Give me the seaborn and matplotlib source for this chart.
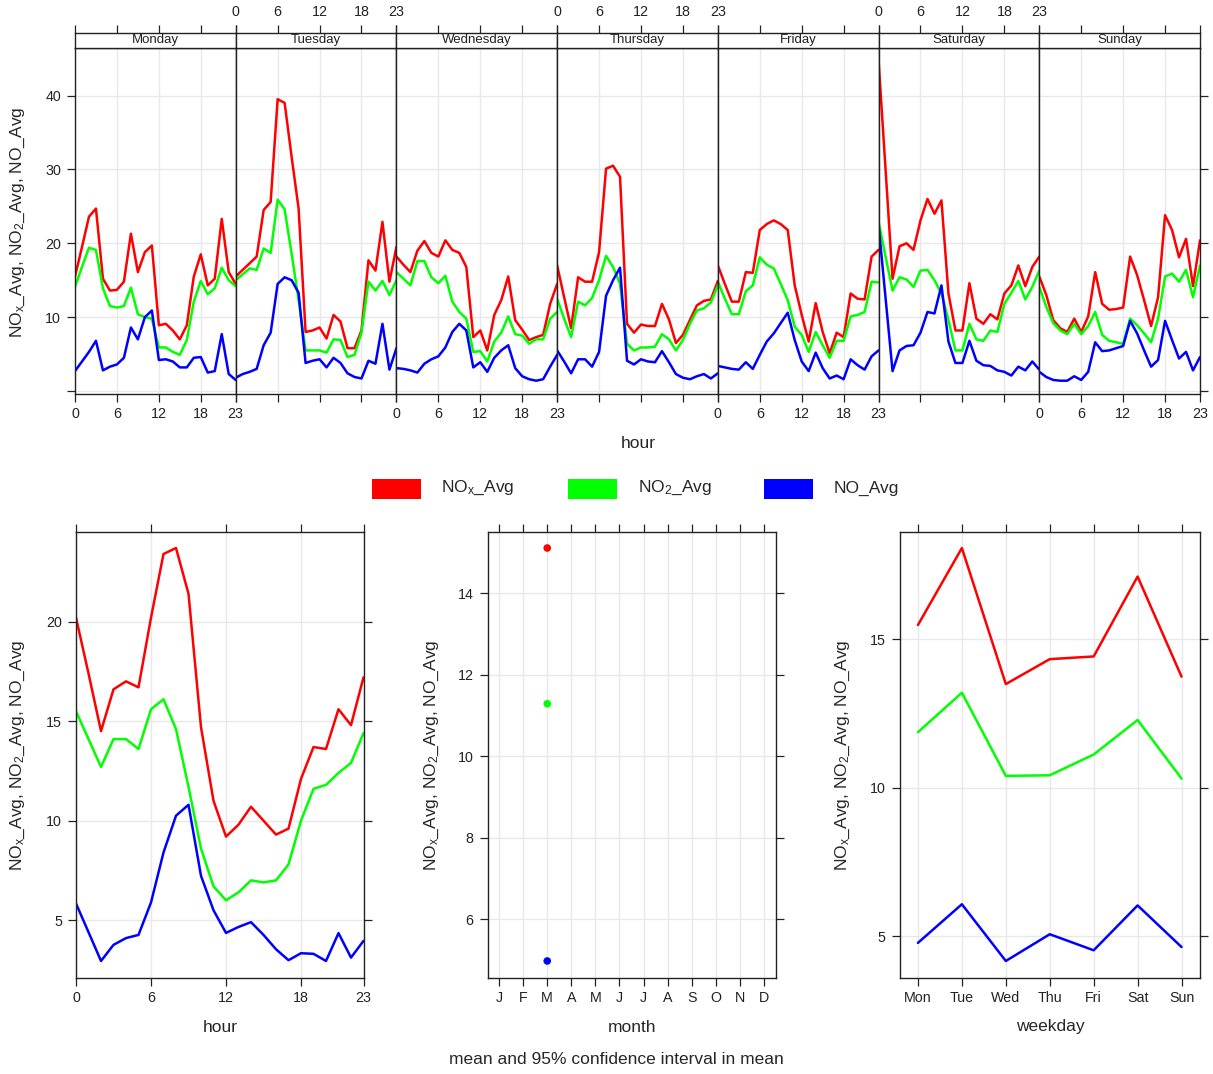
import numpy as np
import pandas as pd
import matplotlib
matplotlib.use("Agg")
import matplotlib.pyplot as plt
from matplotlib.patches import Rectangle
import seaborn as sns

sns.set_theme(style="white")
plt.rcParams["font.family"] = ["Liberation Sans", "DejaVu Sans"]
plt.rcParams["mathtext.fontset"] = "custom"
plt.rcParams["mathtext.rm"] = "Liberation Sans"
plt.rcParams["mathtext.it"] = "Liberation Sans:italic"
plt.rcParams["mathtext.bf"] = "Liberation Sans:bold"

# ---------------- data ----------------
HOURS = list(range(24))
DAYS = ["Monday", "Tuesday", "Wednesday", "Thursday", "Friday", "Saturday", "Sunday"]
DAY_ABBR = ["Mon", "Tue", "Wed", "Thu", "Fri", "Sat", "Sun"]
MONTH_LABELS = ["J", "F", "M", "A", "M", "J", "J", "A", "S", "O", "N", "D"]
POLLUTANTS = ["NOx_Avg", "NO2_Avg", "NO_Avg"]
LEGEND_LABELS = [r"NO$_\mathrm{x}$_Avg", r"NO$_\mathrm{2}$_Avg", "NO_Avg"]
COLORS = {"NOx_Avg": "#FF0000", "NO2_Avg": "#00FF00", "NO_Avg": "#0000FF"}

NOX_MON = [15.5, 19.5, 23.6, 24.7, 15.2, 13.6, 13.7, 14.8, 21.3, 16.1, 18.8, 19.7, 8.9, 9.1, 8.2, 7.0, 8.9, 15.5, 18.5, 14.3, 15.2, 23.3, 16.1, 14.5]
NO2_MON = [14.1, 16.8, 19.4, 19.1, 13.9, 11.5, 11.3, 11.5, 14.0, 10.4, 10.0, 9.8, 5.9, 5.9, 5.3, 4.9, 6.9, 12.1, 14.9, 13.1, 13.9, 16.7, 15.0, 14.2]
NO_MON = [2.7, 4.0, 5.3, 6.8, 2.8, 3.3, 3.6, 4.5, 8.6, 7.0, 10.0, 10.9, 4.2, 4.3, 4.0, 3.2, 3.2, 4.5, 4.6, 2.5, 2.7, 7.7, 2.3, 1.5]

NOX_TUE = [15.5, 16.4, 17.3, 18.2, 24.5, 25.6, 39.5, 39.0, 31.7, 24.7, 8.0, 8.2, 8.6, 7.1, 10.3, 9.4, 5.8, 5.8, 8.2, 17.7, 16.3, 22.9, 14.8, 19.5]
NO2_TUE = [15.0, 15.8, 16.6, 16.4, 19.3, 18.7, 25.9, 24.6, 18.6, 12.3, 5.5, 5.5, 5.5, 5.2, 7.0, 6.9, 4.6, 4.9, 7.9, 14.8, 13.6, 14.9, 13.0, 15.0]
NO_TUE = [1.8, 2.3, 2.6, 3.0, 6.2, 7.9, 14.5, 15.4, 15.0, 13.3, 3.8, 4.1, 4.3, 3.2, 4.5, 3.8, 2.4, 1.9, 1.7, 4.1, 3.7, 9.1, 2.9, 5.8]

NOX_WED = [18.2, 17.1, 16.1, 19.0, 20.3, 18.7, 18.2, 20.4, 19.1, 18.7, 16.8, 7.3, 8.2, 5.5, 10.3, 12.3, 15.5, 9.6, 8.3, 6.9, 7.3, 7.6, 11.8, 14.5]
NO2_WED = [16.1, 15.2, 14.3, 17.6, 17.6, 15.4, 14.6, 15.6, 12.1, 10.7, 9.8, 5.3, 5.4, 4.0, 6.7, 7.9, 10.1, 7.7, 7.5, 6.4, 7.0, 7.0, 9.8, 10.7]
NO_WED = [3.1, 3.0, 2.8, 2.5, 3.7, 4.3, 4.7, 5.9, 8.0, 9.1, 8.2, 3.2, 3.9, 2.6, 4.5, 5.5, 6.2, 3.1, 2.0, 1.6, 1.4, 1.6, 3.3, 4.9]

NOX_THU = [17.0, 12.7, 8.5, 15.4, 14.8, 14.8, 18.8, 30.1, 30.5, 29.0, 9.1, 7.9, 9.0, 8.8, 8.8, 11.8, 9.7, 6.5, 7.6, 9.6, 11.6, 12.2, 12.4, 14.9]
NO2_THU = [12.5, 9.8, 7.3, 12.1, 11.6, 12.6, 15.0, 18.3, 16.8, 14.5, 6.4, 5.5, 5.9, 5.9, 6.0, 7.7, 7.0, 5.5, 6.9, 9.1, 10.9, 11.2, 12.0, 14.3]
NO_THU = [5.5, 4.0, 2.4, 4.3, 4.3, 3.3, 5.3, 12.9, 15.0, 16.7, 4.1, 3.6, 4.3, 4.0, 3.9, 5.4, 3.9, 2.3, 1.8, 1.6, 2.0, 2.3, 1.7, 2.4]

NOX_FRI = [17.0, 14.5, 12.1, 12.1, 16.1, 16.0, 21.8, 22.6, 23.1, 22.6, 21.8, 14.3, 10.3, 6.7, 11.9, 8.0, 5.1, 7.9, 7.3, 13.2, 12.5, 12.4, 18.2, 19.1]
NO2_FRI = [14.8, 12.5, 10.4, 10.4, 13.5, 14.3, 18.1, 17.1, 16.6, 14.5, 12.3, 8.7, 7.6, 5.3, 8.0, 6.2, 4.5, 6.8, 6.8, 10.1, 10.3, 10.7, 14.8, 14.7]
NO_FRI = [3.4, 3.2, 3.0, 2.9, 3.9, 3.0, 4.9, 6.7, 7.8, 9.2, 10.6, 6.9, 4.0, 2.7, 5.2, 3.1, 1.7, 2.1, 1.6, 4.3, 3.5, 2.9, 4.7, 5.5]

NOX_SAT = [44.7, 30.0, 15.2, 19.6, 20.0, 19.1, 23.1, 26.0, 24.0, 25.8, 13.2, 8.2, 8.2, 14.6, 9.8, 9.1, 10.4, 9.7, 13.2, 14.3, 17.0, 14.2, 16.8, 18.2]
NO2_SAT = [22.9, 18.2, 13.6, 15.4, 15.1, 14.1, 16.3, 16.4, 15.0, 13.2, 9.6, 5.5, 5.5, 9.1, 7.0, 6.8, 8.2, 8.0, 11.8, 13.3, 14.9, 12.4, 14.1, 16.3]
NO_SAT = [22.5, 12.6, 2.7, 5.5, 6.1, 6.2, 7.9, 10.7, 10.5, 14.3, 6.7, 3.8, 3.8, 6.8, 4.1, 3.5, 3.4, 2.8, 2.6, 2.1, 3.3, 2.8, 4.0, 2.9]

NOX_SUN = [15.5, 13.0, 9.6, 8.5, 8.0, 9.8, 8.0, 10.1, 16.1, 11.8, 11.0, 11.1, 11.3, 18.2, 15.7, 12.3, 8.8, 12.7, 23.8, 21.8, 18.1, 20.6, 14.2, 20.4]
NO2_SUN = [14.1, 11.4, 9.2, 8.2, 7.7, 9.1, 7.7, 8.8, 10.7, 7.6, 6.8, 6.6, 6.4, 9.8, 8.9, 7.8, 6.6, 9.8, 15.5, 15.9, 14.8, 16.4, 12.7, 17.0]
NO_SUN = [2.6, 1.9, 1.5, 1.4, 1.4, 2.0, 1.5, 2.6, 6.6, 5.4, 5.5, 5.8, 6.1, 9.5, 7.8, 5.5, 3.3, 4.2, 9.5, 6.9, 4.4, 5.3, 2.8, 4.6]

NOX_HOUR = [20.2, 17.4, 14.5, 16.6, 17.0, 16.7, 20.2, 23.4, 23.7, 21.4, 14.7, 11.0, 9.2, 9.8, 10.7, 10.0, 9.3, 9.6, 12.1, 13.7, 13.6, 15.6, 14.8, 17.2]
NO2_HOUR = [15.5, 14.1, 12.7, 14.1, 14.1, 13.6, 15.6, 16.1, 14.6, 11.7, 8.6, 6.7, 6.0, 6.4, 7.0, 6.9, 7.0, 7.8, 10.0, 11.6, 11.8, 12.4, 12.9, 14.4]
NO_HOUR = [5.84, 4.4, 2.95, 3.76, 4.1, 4.26, 5.89, 8.4, 10.25, 10.8, 7.23, 5.5, 4.36, 4.66, 4.9, 4.26, 3.54, 2.99, 3.34, 3.31, 2.95, 4.35, 3.12, 3.96]

NOX_WEEKDAY = [15.48, 18.07, 13.49, 14.33, 14.42, 17.11, 13.74]
NO2_WEEKDAY = [11.87, 13.20, 10.40, 10.42, 11.12, 12.28, 10.31]
NO_WEEKDAY = [4.78, 6.08, 4.17, 5.07, 4.53, 6.04, 4.64]

MONTHS_PRESENT = [3]
NOX_MONTH = [15.11]
NO2_MONTH = [11.29]
NO_MONTH = [4.98]

DAY_SERIES = {
    "Monday": (NOX_MON, NO2_MON, NO_MON),
    "Tuesday": (NOX_TUE, NO2_TUE, NO_TUE),
    "Wednesday": (NOX_WED, NO2_WED, NO_WED),
    "Thursday": (NOX_THU, NO2_THU, NO_THU),
    "Friday": (NOX_FRI, NO2_FRI, NO_FRI),
    "Saturday": (NOX_SAT, NO2_SAT, NO_SAT),
    "Sunday": (NOX_SUN, NO2_SUN, NO_SUN),
}

rows = []
for d in DAYS:
    for p, vals in zip(POLLUTANTS, DAY_SERIES[d]):
        for h, v in zip(HOURS, vals):
            rows.append({"day": d, "hour": h, "pollutant": p, "value": v})
df_dh = pd.DataFrame(rows)

df_hour = pd.DataFrame([{"hour": h, "pollutant": p, "value": v}
                        for p, vals in zip(POLLUTANTS, (NOX_HOUR, NO2_HOUR, NO_HOUR))
                        for h, v in zip(HOURS, vals)])
df_wd = pd.DataFrame([{"wd": i + 1, "pollutant": p, "value": v}
                      for p, vals in zip(POLLUTANTS, (NOX_WEEKDAY, NO2_WEEKDAY, NO_WEEKDAY))
                      for i, v in enumerate(vals)])
df_month = pd.DataFrame([{"month": m, "pollutant": p, "value": v}
                         for p, vals in zip(POLLUTANTS, (NOX_MONTH, NO2_MONTH, NO_MONTH))
                         for m, v in zip(MONTHS_PRESENT, vals)])


def padded(values, frac=0.04):
    lo, hi = float(np.min(values)), float(np.max(values))
    span = hi - lo
    return lo - frac * span, hi + frac * span


# ---------------- figure ----------------
W, H = 1213, 1074
fig = plt.figure(figsize=(W / 100, H / 100), dpi=100)
fig.patch.set_facecolor("white")


def rect(x0, y0, x1, y1):
    return [x0 / W, 1 - y1 / H, (x1 - x0) / W, (y1 - y0) / H]


GRID_C = "#e8e8e8"
TICK_FS = 10.3
LAB_FS = 12.5
LW = 1.8
YLABEL = r"NO$_\mathrm{x}$_Avg, NO$_\mathrm{2}$_Avg, NO_Avg"


def base_style(ax):
    for s in ax.spines.values():
        s.set_color("#222222")
        s.set_linewidth(1.0)
        s.set_visible(True)
    ax.set_facecolor("white")
    ax.grid(True, color=GRID_C, linewidth=1.0)
    ax.set_axisbelow(True)
    ax.tick_params(direction="out", length=6, width=0.9, color="#222222",
                   labelsize=TICK_FS, labelcolor="#222222", pad=4)
    ax.set_xlabel("")
    ax.set_ylabel("")


# ---- top: day x hour panels ----
x_left, x_right = 75, 1200
pw = (x_right - x_left) / 7
top_ylim = padded(df_dh["value"])
for i, d in enumerate(DAYS):
    x0 = x_left + i * pw
    ax = fig.add_axes(rect(x0, 48, x0 + pw, 393.5))
    sub = df_dh[df_dh["day"] == d]
    sns.lineplot(data=sub, x="hour", y="value", hue="pollutant", hue_order=POLLUTANTS,
                 palette=COLORS, legend=False, ax=ax, linewidth=LW, errorbar=None)
    base_style(ax)
    ax.set_xlim(0, 23)
    ax.set_ylim(*top_ylim)
    ax.set_xticks([0, 6, 12, 18, 23])
    ax.set_yticks([0, 10, 20, 30, 40])
    ax.set_yticklabels(["", "10", "20", "30", "40"])
    ax.tick_params(axis="x", bottom=True, labelbottom=(i % 2 == 0), top=False)
    ax.tick_params(axis="y", left=(i == 0), labelleft=(i == 0),
                   right=(i == 6), labelright=False)

    sax = fig.add_axes(rect(x0, 32.5, x0 + pw, 48))
    sax.set_xlim(0, 23)
    sax.set_ylim(0, 1)
    for s in sax.spines.values():
        s.set_color("#222222")
        s.set_linewidth(1.0)
    sax.set_facecolor("white")
    sax.set_yticks([])
    sax.set_xticks([0, 6, 12, 18, 23])
    sax.tick_params(axis="x", direction="out", length=6, width=0.9, color="#222222",
                    bottom=False, labelbottom=False, top=True, labeltop=(i % 2 == 1),
                    labelsize=TICK_FS, labelcolor="#222222", pad=4)
    sax.text(11.5, 0.5, d, ha="center", va="center", fontsize=9.5, color="#222222")

fig.text(638 / W, 1 - 443 / H, "hour", ha="center", va="center", fontsize=LAB_FS)
fig.text(18 / W, 1 - 222 / H, YLABEL, ha="center", va="center", rotation=90, fontsize=LAB_FS)

# ---- legend ----
leg_items = [(372, 421, 441), (568, 617, 638), (764, 813, 834)]
for (r0, r1, tx), p, lab in zip(leg_items, POLLUTANTS, LEGEND_LABELS):
    fig.patches.append(Rectangle((r0 / W, 1 - 499 / H), (r1 - r0) / W, 20 / H,
                                 transform=fig.transFigure, facecolor=COLORS[p],
                                 edgecolor="none"))
    fig.text(tx / W, 1 - 488 / H, lab, ha="left", va="center", fontsize=LAB_FS)

# ---- bottom left: hour ----
ax = fig.add_axes(rect(76, 531.5, 363.5, 977.5))
sns.lineplot(data=df_hour, x="hour", y="value", hue="pollutant", hue_order=POLLUTANTS,
             palette=COLORS, legend=False, ax=ax, linewidth=LW, errorbar=None)
base_style(ax)
ax.set_xlim(0, 23)
ax.set_ylim(*padded(df_hour["value"]))
ax.set_xticks([0, 6, 12, 18, 23])
ax.set_yticks([5, 10, 15, 20])
ax.tick_params(axis="x", top=True, labeltop=False, bottom=True)
ax.tick_params(axis="y", left=True, right=True, labelright=False)
fig.text(220 / W, 1 - 1027 / H, "hour", ha="center", va="center", fontsize=LAB_FS)
fig.text(18 / W, 1 - 755 / H, YLABEL, ha="center", va="center", rotation=90, fontsize=LAB_FS)

# ---- bottom middle: month ----
ax = fig.add_axes(rect(487.5, 531.5, 776, 977.5))
sns.scatterplot(data=df_month, x="month", y="value", hue="pollutant", hue_order=POLLUTANTS,
                palette=COLORS, legend=False, ax=ax, s=30, edgecolor="none")
base_style(ax)
ax.set_xlim(0.52, 12.5)
ax.set_ylim(*padded(df_month["value"]))
ax.set_xticks(range(1, 13))
ax.set_xticklabels(MONTH_LABELS)
ax.set_yticks([6, 8, 10, 12, 14])
ax.tick_params(axis="x", top=True, labeltop=False, bottom=True)
ax.tick_params(axis="y", left=True, right=True, labelright=False)
fig.text(632 / W, 1 - 1027 / H, "month", ha="center", va="center", fontsize=LAB_FS)
fig.text(432 / W, 1 - 755 / H, YLABEL, ha="center", va="center", rotation=90, fontsize=LAB_FS)
fig.text(616 / W, 1 - 1059 / H, "mean and 95% confidence interval in mean",
         ha="center", va="center", fontsize=12.5)

# ---- bottom right: weekday ----
ax = fig.add_axes(rect(899.5, 531.5, 1200, 977.5))
sns.lineplot(data=df_wd, x="wd", y="value", hue="pollutant", hue_order=POLLUTANTS,
             palette=COLORS, legend=False, ax=ax, linewidth=LW, errorbar=None)
base_style(ax)
ax.set_xlim(0.58, 7.42)
ax.set_ylim(*padded(df_wd["value"]))
ax.set_xticks(range(1, 8))
ax.set_xticklabels(DAY_ABBR)
ax.set_yticks([5, 10, 15])
ax.tick_params(axis="x", top=True, labeltop=False, bottom=True)
ax.tick_params(axis="y", left=True, right=True, labelright=False)
fig.text(1050 / W, 1 - 1027 / H, "weekday", ha="center", va="center", fontsize=LAB_FS)
fig.text(843 / W, 1 - 755 / H, YLABEL, ha="center", va="center", rotation=90, fontsize=LAB_FS)

fig.savefig("out.png", dpi=100, facecolor="white")
